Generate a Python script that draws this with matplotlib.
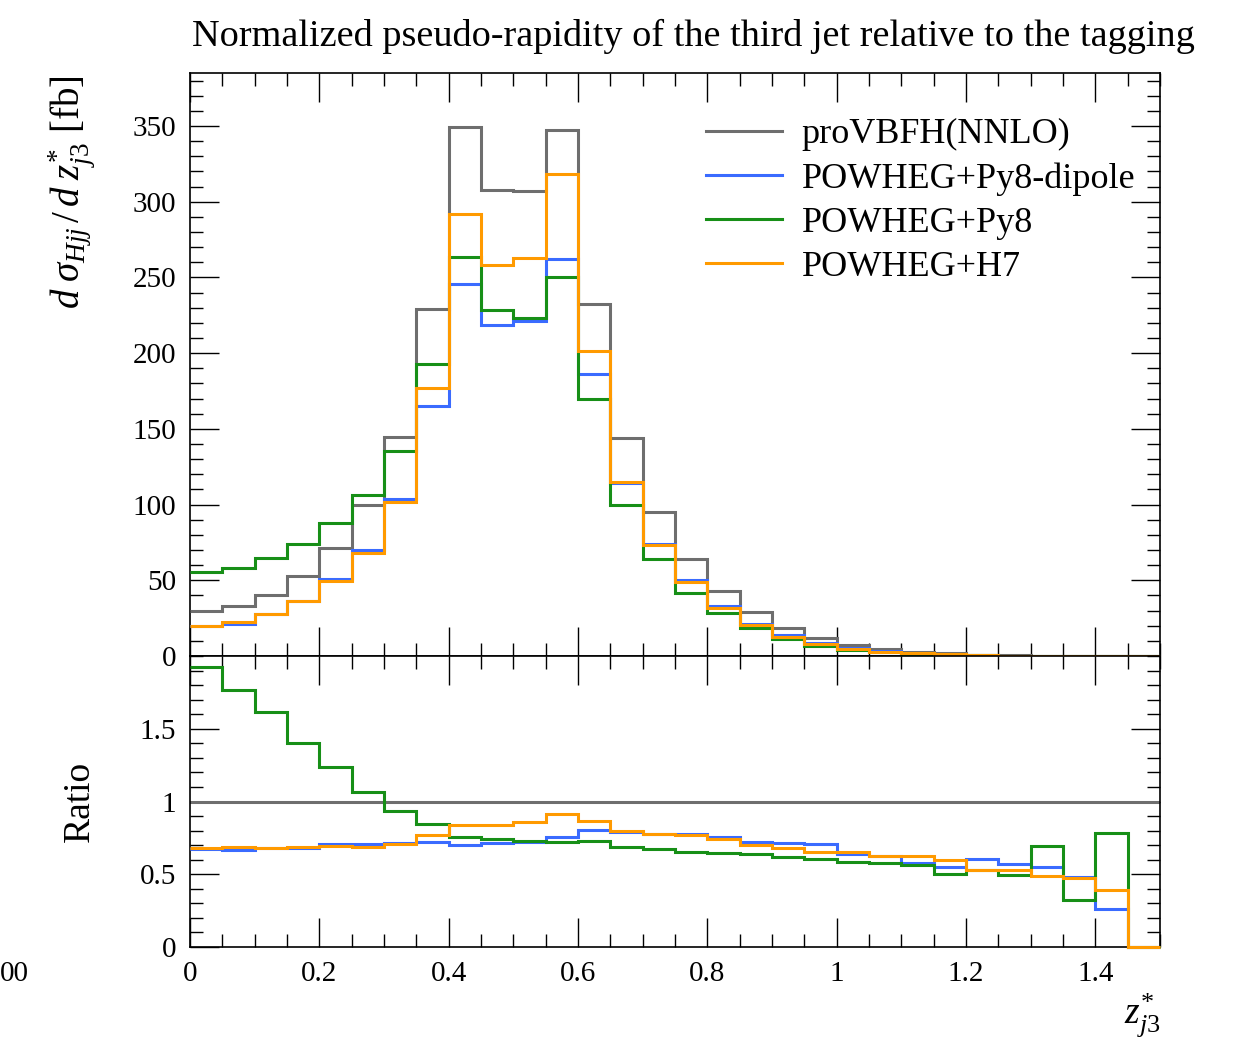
"""
Normalized pseudo-rapidity of the third jet (z*_j3): NNLO vs POWHEG showers,
main distribution plus ratio to proVBFH(NNLO).
"""
import numpy as np
import matplotlib
matplotlib.use("Agg")
import matplotlib.pyplot as plt
from matplotlib.ticker import MultipleLocator, FuncFormatter

# bin edges in z*_j3
edges = [0.0, 0.05, 0.1, 0.15, 0.2, 0.25, 0.3, 0.35, 0.4, 0.45, 0.5, 0.55,
         0.6, 0.65, 0.7, 0.75, 0.8, 0.85, 0.9, 0.95, 1.0, 1.05, 1.1, 1.15,
         1.2, 1.25, 1.3, 1.35, 1.4, 1.45, 1.5]

labels = ["proVBFH(NNLO)", "POWHEG+Py8-dipole", "POWHEG+Py8", "POWHEG+H7"]

# d sigma / d z*_j3 [fb]
nnlo = [29.4, 32.7, 40.2, 53.0, 71.1, 99.9, 144.9, 229.0, 349.3, 307.8,
        306.9, 347.2, 232.5, 144.1, 95.0, 64.1, 43.0, 28.8, 18.8, 11.9,
        7.4, 4.4, 2.8, 1.7, 0.9, 0.5, 0.3, 0.15, 0.08, 0.03]
py8_dipole = [19.6, 21.4, 27.5, 36.2, 51.0, 70.2, 103.6, 165.3, 245.6, 218.3,
              221.2, 262.0, 186.5, 114.0, 74.1, 49.9, 32.8, 21.1, 13.9, 8.8,
              5.1, 3.4, 2.0, 1.1, 0.6, 0.3, 0.17, 0.07, 0.02, 0.0]
py8 = [55.8, 57.9, 64.7, 74.1, 87.8, 106.2, 135.4, 192.7, 263.3, 228.2,
       223.0, 250.6, 170.0, 99.8, 64.3, 41.7, 28.1, 18.3, 11.3, 6.9,
       4.1, 2.4, 1.5, 0.8, 0.5, 0.25, 0.2, 0.05, 0.06, 0.0]
h7 = [19.7, 22.4, 27.5, 36.2, 49.4, 68.3, 102.0, 176.7, 292.1, 257.9,
      263.1, 318.0, 201.4, 114.7, 73.5, 48.9, 32.0, 20.4, 12.8, 7.9,
      4.6, 2.9, 1.8, 1.0, 0.5, 0.27, 0.15, 0.07, 0.03, 0.0]

# ratio to proVBFH(NNLO)
ratio_py8_dipole = [0.675, 0.666, 0.68, 0.68, 0.705, 0.705, 0.716, 0.723, 0.703, 0.712,
                    0.719, 0.755, 0.803, 0.792, 0.78, 0.776, 0.755, 0.721, 0.712, 0.707,
                    0.638, 0.622, 0.578, 0.547, 0.604, 0.57, 0.549, 0.48, 0.263, 0.0]
ratio_py8 = [1.922, 1.769, 1.616, 1.400, 1.236, 1.064, 0.938, 0.842, 0.753, 0.741,
             0.728, 0.722, 0.73, 0.689, 0.673, 0.654, 0.648, 0.638, 0.618, 0.602,
             0.586, 0.574, 0.565, 0.505, 0.531, 0.494, 0.696, 0.32, 0.785, 0.0]
ratio_h7 = [0.68, 0.684, 0.68, 0.689, 0.691, 0.689, 0.707, 0.771, 0.84, 0.84,
            0.856, 0.915, 0.865, 0.794, 0.778, 0.767, 0.739, 0.70, 0.68, 0.652,
            0.652, 0.627, 0.625, 0.60, 0.531, 0.531, 0.485, 0.474, 0.394, 0.0]

colors = ["#6e6e6e", "#3a6bff", "#178f17", "#ff9a00"]

plt.rcParams["font.family"] = "Liberation Serif"
plt.rcParams["mathtext.fontset"] = "custom"
plt.rcParams["mathtext.rm"] = "Liberation Serif"
plt.rcParams["mathtext.it"] = "Liberation Serif:italic"

fig = plt.figure(figsize=(12.5, 10.43), dpi=100)
W, H = 1250, 1043
ax = fig.add_axes([190 / W, 1 - 656 / H, 970 / W, 583 / H])
axr = fig.add_axes([190 / W, 1 - 947 / H, 970 / W, 291 / H])

for vals, lab, c in zip([nnlo, py8_dipole, py8, h7], labels, colors):
    ax.stairs(vals, edges, baseline=None, color=c, lw=2.2, label=lab,
              zorder=3, clip_on=False)

axr.axhline(1.0, color=colors[0], lw=2.2)
for vals, c in zip([ratio_py8_dipole, ratio_py8, ratio_h7], colors[1:]):
    axr.stairs(vals, edges, baseline=None, color=c, lw=2.2, zorder=3,
               clip_on=False)

ax.set_xlim(0, 1.5)
ax.set_ylim(0, 385)
axr.set_xlim(0, 1.5)
axr.set_ylim(0, 2)

fmt = FuncFormatter(lambda v, p: f"{v:g}")
for a in (ax, axr):
    a.xaxis.set_major_locator(MultipleLocator(0.2))
    a.xaxis.set_minor_locator(MultipleLocator(0.05))
    a.tick_params(which="both", direction="in", top=True, right=True,
                  width=1.0, labelsize=21, pad=10)
    a.tick_params(which="major", length=21)
    a.tick_params(which="minor", length=9.5)
    for s in a.spines.values():
        s.set_linewidth(1.2)
ax.yaxis.set_major_locator(MultipleLocator(50))
ax.yaxis.set_minor_locator(MultipleLocator(10))
ax.tick_params(labelbottom=False)
axr.set_yticks([0, 0.5, 1, 1.5])
axr.yaxis.set_minor_locator(MultipleLocator(0.1))
axr.yaxis.set_major_formatter(fmt)
axr.xaxis.set_major_formatter(fmt)

leg = ax.legend(loc="upper left", bbox_to_anchor=(516 / 970, 1 - 45 / 583),
                frameon=False, fontsize=26, handlelength=2.1,
                handletextpad=0.55, labelspacing=0.3, borderaxespad=0,
                borderpad=0)

fig.text(192 / W, 1 - 46 / H, "Normalized pseudo-rapidity of the third jet relative to the tagging",
         fontsize=27.5, ha="left", va="baseline")
fig.text(72 / W, 1 - 75 / H, r"$d\;\sigma_{Hjj}\,/\,d\;z^{*}_{j3}$ [fb]",
         fontsize=28, rotation=90, ha="center", va="top")
fig.text(80 / W, 1 - 801 / H, "Ratio", fontsize=27, rotation=90,
         ha="center", va="center")
fig.text(1160 / W, 1 - 1040 / H, r"$z^{*}_{j3}$", fontsize=27,
         ha="right", va="bottom")
fig.text(0, 1 - 981 / H, "00", fontsize=21, ha="left", va="baseline")

fig.savefig("out.png", dpi=100)
